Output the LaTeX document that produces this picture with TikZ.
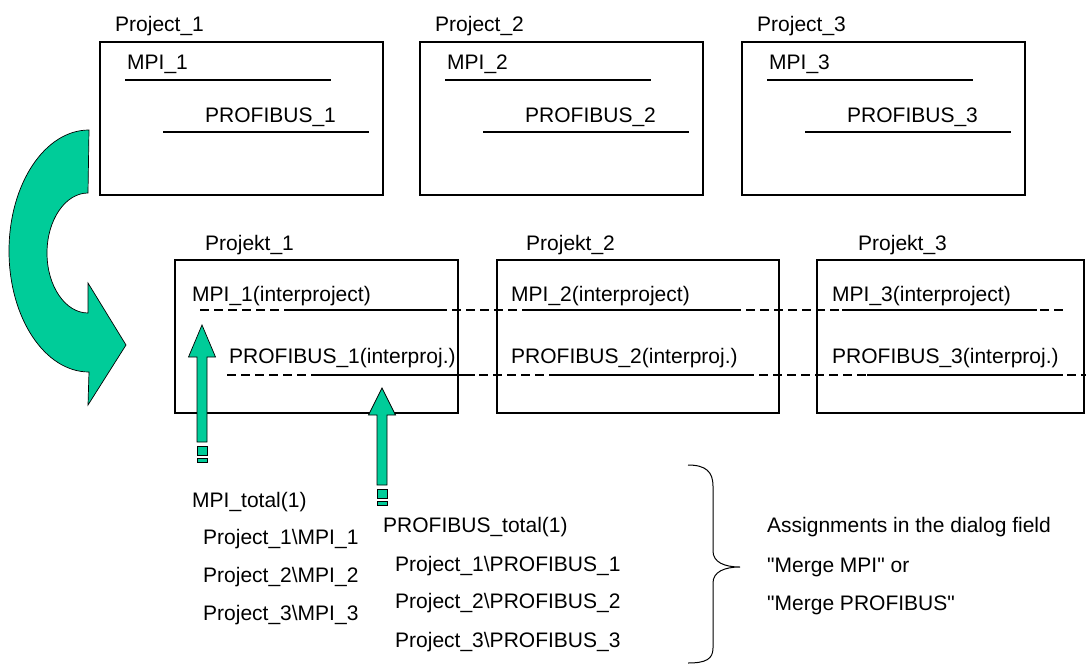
\documentclass[tikz,border=0pt]{standalone}
\usepackage{fontspec}
\setmainfont{Liberation Sans}
\usepackage{tikz}
\usetikzlibrary{positioning,calc}
\usepackage{xcolor}
\definecolor{arrowgreen}{RGB}{0,204,153}

\begin{document}
\begin{tikzpicture}[x=1pt,y=1pt,
    lbl/.style={anchor=base west, inner sep=0pt, font=\fontsize{21}{25}\selectfont},
    box/.style={draw, line width=1.3pt},
    bus/.style={line width=1.3pt},
    busdash/.style={line width=1.3pt, dash pattern=on 9pt off 5pt},
    blockarrow/.style={fill=arrowgreen, draw=black, line width=0.7pt, line join=miter}]
    \useasboundingbox (0,0) rectangle (1086,-666);

    % --- Top row: the separate projects ---
    \foreach \i/\x in {1/100,2/420,3/742} {
        \draw[box] (\x,-42) rectangle ++(283,-153);
        \node[lbl] (proj\i) at (\x+15,-32) {Project\_\i};
        \node[lbl] (mpi\i) at (\x+27,-70) {MPI\_\i};
        \draw[bus] (\x+25,-80) -- ++(206,0);
        \node[lbl] (pb\i) at (\x+105,-122) {PROFIBUS\_\i};
        \draw[bus] (\x+63,-132) -- ++(206,0);
    }

    % --- Curved arrow ---
    \draw[blockarrow] (89,-130) arc[start angle=90, end angle=270, x radius=80, y radius=121]
        -- (88,-405) -- (126,-345) -- (88,-283) -- (88,-313)
        arc[start angle=270, end angle=90, x radius=41, y radius=60] -- cycle;

    % --- Bottom row: interproject subnets ---
    \draw[box] (175,-260) rectangle (458,-413);
    \draw[box] (497,-260) rectangle (779,-413);
    \draw[box] (817,-260) rectangle (1084,-413);
    \node[lbl] (projk1) at (205,-250) {Projekt\_1};
    \node[lbl] (projk2) at (526,-250) {Projekt\_2};
    \node[lbl] (projk3) at (858,-250) {Projekt\_3};
    \node[lbl] (impi1) at (192,-301) {MPI\_1(interproject)};
    \node[lbl] (impi2) at (511,-301) {MPI\_2(interproject)};
    \node[lbl] (impi3) at (832,-301) {MPI\_3(interproject)};
    \node[lbl] (ipb1) at (229,-363) {PROFIBUS\_1(interproj.)};
    \node[lbl] (ipb2) at (511,-363) {PROFIBUS\_2(interproj.)};
    \node[lbl] (ipb3) at (832,-363) {PROFIBUS\_3(interproj.)};

    \draw[busdash] (200,-310) -- (1063,-310);
    \foreach \a/\b in {287/443,527/740,842/1037}
        \draw[bus] (\a,-310) -- (\b,-310);
    \draw[busdash] (227,-375) -- (1086,-375);
    \foreach \a/\b in {320/475,556/753,867/1063}
        \draw[bus] (\a,-375) -- (\b,-375);

    % --- Totals ---
    \node[lbl] (mpitot) at (192,-507) {MPI\_total(1)};
    \node[lbl] (mpil1) at (203,-544) {Project\_1\textbackslash MPI\_1};
    \node[lbl] (mpil2) at (203,-582) {Project\_2\textbackslash MPI\_2};
    \node[lbl] (mpil3) at (203,-620) {Project\_3\textbackslash MPI\_3};
    \node[lbl] (pbtot) at (383,-532) {PROFIBUS\_total(1)};
    \node[lbl] (pbl1) at (395,-571) {Project\_1\textbackslash PROFIBUS\_1};
    \node[lbl] (pbl2) at (395,-608) {Project\_2\textbackslash PROFIBUS\_2};
    \node[lbl] (pbl3) at (395,-647) {Project\_3\textbackslash PROFIBUS\_3};

    % --- Up arrows ---
    \coordinate (mpitip) at (202,-325);
    \coordinate (pbtip) at (382,-388);
    \foreach \c/\h/\s in {mpitip/32/85,pbtip/27/70} {
        \draw[blockarrow] (\c) -- ++(13.5,-\h) -- ++(-8.5,0) -- ++(0,-\s)
            -- ++(-10,0) -- ++(0,\s) -- ++(-8.5,0) -- cycle;
        \draw[blockarrow] ($(\c)+(-5,-\h-\s-4)$) rectangle ++(10,-9);
        \draw[blockarrow] ($(\c)+(-5,-\h-\s-16)$) rectangle ++(10,-4);
    }

    % --- Brace and note ---
    \draw[line width=1pt] (688,-465) .. controls (706,-465) and (713,-472) .. (713,-486)
        -- (713,-551) .. controls (713,-562) and (724,-567) .. (740,-567)
        .. controls (724,-567) and (713,-572) .. (713,-583)
        -- (713,-648) .. controls (713,-659) and (706,-663) .. (688,-663);
    \node[lbl] (note1) at (767,-532) {Assignments in the dialog field};
    \node[lbl] (note2) at (767,-572) {\textquotedbl Merge MPI\textquotedbl{} or};
    \node[lbl] (note3) at (767,-610) {\textquotedbl Merge PROFIBUS\textquotedbl};
\end{tikzpicture}
\end{document}
